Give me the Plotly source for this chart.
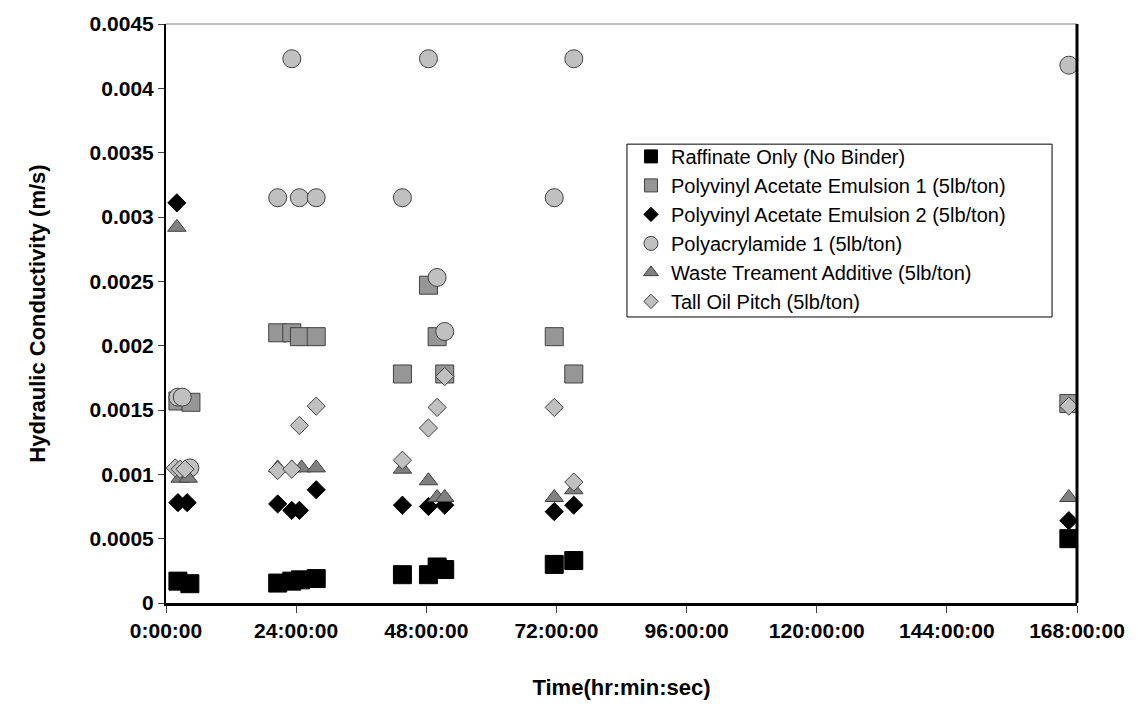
import plotly.graph_objects as go

# Elapsed time (hours) and hydraulic conductivity (m/s) for each binder test
raff_t = [2.2, 4.4, 20.6, 23.2, 24.8, 27.7, 43.6, 48.4, 50.0, 51.4, 71.6, 75.2, 166.5]
raff_k = [0.00017, 0.00015, 0.000155, 0.00017, 0.00018, 0.00019,
          0.00022, 0.00022, 0.00028, 0.00026, 0.00030, 0.00033, 0.00050]

pva1_t = [2.2, 4.6, 20.6, 23.2, 24.6, 27.7, 43.6, 48.4, 50.0, 51.4, 71.6, 75.2, 166.5]
pva1_k = [0.00157, 0.00156, 0.00210, 0.00210, 0.00207, 0.00207,
          0.00178, 0.00247, 0.00207, 0.00178, 0.00207, 0.00178, 0.00155]

pva2_t = [2.0, 2.2, 3.9, 20.6, 23.2, 24.6, 27.7, 43.6, 48.4, 51.4, 71.6, 75.2, 166.5]
pva2_k = [0.00311, 0.00078, 0.00078, 0.00077, 0.00072, 0.00072, 0.00088,
          0.00076, 0.00075, 0.00076, 0.00071, 0.00076, 0.00064]

pam_t = [2.2, 3.0, 4.4, 20.6, 23.2, 24.6, 27.7, 43.6, 48.4, 50.0, 51.4, 71.6, 75.2, 166.5]
pam_k = [0.00160, 0.00160, 0.00105, 0.00315, 0.00423, 0.00315, 0.00315,
         0.00315, 0.00423, 0.00253, 0.00211, 0.00315, 0.00423, 0.00418]

wta_t = [2.0, 2.6, 4.1, 20.6, 23.2, 25.0, 27.7, 43.6, 48.4, 50.0, 51.4, 71.6, 75.2, 166.5]
wta_k = [0.00292, 0.00097, 0.00097, 0.00105, 0.00105, 0.00105, 0.00105,
         0.00104, 0.00095, 0.00082, 0.00082, 0.00082, 0.00088, 0.00082]

tall_t = [1.7, 2.6, 3.5, 20.6, 23.2, 24.6, 27.7, 43.6, 48.4, 50.0, 51.4, 71.6, 75.2, 166.5]
tall_k = [0.00105, 0.00104, 0.00104, 0.00103, 0.00104, 0.00138, 0.00153,
          0.00111, 0.00136, 0.00152, 0.00176, 0.00152, 0.00094, 0.00153]

x_ticks = [0, 24, 48, 72, 96, 120, 144, 168]
x_tick_labels = ["0:00:00", "24:00:00", "48:00:00", "72:00:00",
                 "96:00:00", "120:00:00", "144:00:00", "168:00:00"]
y_ticks = [0, 0.0005, 0.001, 0.0015, 0.002, 0.0025, 0.003, 0.0035, 0.004, 0.0045]
y_tick_labels = ["0", "0.0005", "0.001", "0.0015", "0.002", "0.0025",
                 "0.003", "0.0035", "0.004", "0.0045"]

series = [
    ("Raffinate Only (No Binder)", raff_t, raff_k, "square", 18, "#000000", "#000000", 13),
    ("Polyvinyl Acetate Emulsion 1 (5lb/ton)", pva1_t, pva1_k, "square", 18, "#969696", "#404040", 13),
    ("Polyvinyl Acetate Emulsion 2 (5lb/ton)", pva2_t, pva2_k, "diamond", 14, "#000000", "#000000", 11),
    ("Polyacrylamide 1 (5lb/ton)", pam_t, pam_k, "circle", 18, "#c0c0c0", "#404040", 14),
    ("Waste Treament Additive (5lb/ton)", wta_t, wta_k, "triangle-up", 16, "#808080", "#404040", 13),
    ("Tall Oil Pitch (5lb/ton)", tall_t, tall_k, "diamond", 14, "#c0c0c0", "#404040", 11),
]

FONT = "Liberation Sans, Arial, sans-serif"

fig = go.Figure()

for name, t, k, sym, size, fill, edge, _ in series:
    fig.add_trace(go.Scatter(
        x=t, y=k, mode="markers", name=name, showlegend=False,
        marker=dict(symbol=sym, size=size, color=fill,
                    line=dict(color=edge, width=1)),
    ))

# Smaller symbols for the legend box
for i, (name, t, k, sym, size, fill, edge, lsize) in enumerate(series):
    fig.add_trace(go.Scatter(
        x=[None], y=[None], mode="markers", name=name, legendgroup=f"g{i}",
        marker=dict(symbol=sym, size=lsize, color=fill,
                    line=dict(color=edge, width=1)),
    ))

fig.update_layout(
    width=1138, height=713,
    margin=dict(l=166, r=61, t=20, b=110),
    paper_bgcolor="white", plot_bgcolor="white",
    font=dict(family=FONT, color="black"),
    showlegend=True,
    legend=dict(
        x=0.5104, y=0.805, xanchor="left", yanchor="top",
        bgcolor="rgba(0,0,0,0)", borderwidth=0,
        font=dict(size=20, color="black", family=FONT),
        traceorder="grouped", tracegroupgap=0,
        itemwidth=30,
    ),
    xaxis=dict(
        range=[0, 168], tickvals=x_ticks, ticktext=x_tick_labels,
        showgrid=False, zeroline=False,
        showline=True, linecolor="black", linewidth=3,
        ticks="outside", ticklen=7, tickwidth=1, tickcolor="#404040",
        tickfont=dict(size=21, family=FONT, weight="bold"),
        title=dict(text="<b>Time(hr:min:sec)</b>", font=dict(size=22, family=FONT), standoff=39),
    ),
    yaxis=dict(
        range=[0, 0.0045], tickvals=y_ticks, ticktext=y_tick_labels,
        showgrid=False, zeroline=False,
        showline=True, linecolor="black", linewidth=2,
        ticks="outside", ticklen=6, tickwidth=1, tickcolor="#404040",
        tickfont=dict(size=21, family=FONT, weight="bold"),
        title=dict(text="<b>Hydraulic Conductivity (m/s)</b>", font=dict(size=22, family=FONT), standoff=38),
    ),
    shapes=[
        # top border of the plot area
        dict(type="line", xref="paper", yref="paper", x0=0, x1=1, y0=1, y1=1,
             line=dict(color="#808080", width=1)),
        # heavy right border
        dict(type="line", xref="paper", yref="paper", x0=1, x1=1, y0=0, y1=1,
             line=dict(color="black", width=3)),
        # legend frame
        dict(type="rect", xref="paper", yref="paper", layer="above",
             x0=0.506, x1=0.9726, y0=0.494, y1=0.7925,
             fillcolor="white", line=dict(color="black", width=1)),
    ],
)

fig.write_html("out.html")
